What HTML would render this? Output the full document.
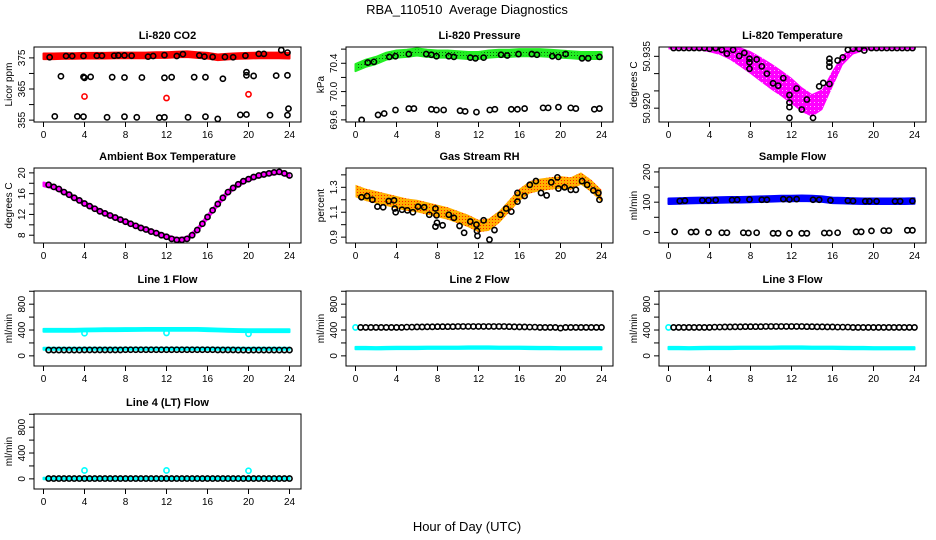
<!DOCTYPE html>
<html><head><meta charset="utf-8"><style>
html,body{margin:0;padding:0;background:#fff;}
svg{display:block;font-family:"Liberation Sans",sans-serif;}
</style></head><body>
<svg id="c" width="936" height="540" viewBox="0 0 936 540">
<defs>
<pattern id="pGreen" width="3" height="3" patternUnits="userSpaceOnUse"><rect width="3" height="3" fill="#22ee22"/><rect x="1" y="1" width="1" height="1" fill="#0a5a0a"/></pattern>
<pattern id="pRH" width="3" height="3" patternUnits="userSpaceOnUse"><rect width="3" height="3" fill="#ffb000"/><rect width="1" height="1" fill="#ff2000"/></pattern>
<pattern id="pMag" width="4" height="4" patternUnits="userSpaceOnUse"><rect width="4" height="4" fill="#ff00ff"/><rect x="2" y="2" width="1" height="1" fill="#ffb0ff"/></pattern>
</defs>
<text x="467" y="14" text-anchor="middle" font-size="13" style="white-space:pre">RBA_110510  Average Diagnostics</text>
<text x="467" y="531" text-anchor="middle" font-size="13">Hour of Day (UTC)</text>
</svg>
<script>
// ---------- data ----------
const xTicks = [0,4,8,12,16,20,24];
const bandHours = [0,1,2,3,4,5,6,7,8,9,10,11,12,13,14,15,16,17,18,19,20,21,22,23,24];
const halfHours = [0.5,1,1.5,2,2.5,3,3.5,4,4.5,5,5.5,6,6.5,7,7.5,8,8.5,9,9.5,10,10.5,11,11.5,12,12.5,13,13.5,14,14.5,15,15.5,16,16.5,17,17.5,18,18.5,19,19.5,20,20.5,21,21.5,22,22.5,23,23.5,24];

// CO2
const co2Band = [375.5,375.5,375.6,375.6,375.7,375.7,375.7,375.8,375.8,375.8,375.8,375.9,375.9,376.1,376.2,375.9,375.7,375.2,375.4,375.6,375.7,375.8,375.8,375.8,375.7];
const co2TopX = [0.6,2.2,2.8,3.9,5.2,5.7,6.9,7.3,7.9,8.6,10.2,10.7,11.8,13,13.6,15.2,15.7,16.5,17.7,18.5,19.7,21,21.5,23.2,23.8];
const co2TopY = [375.2,375.6,375.6,375.6,375.7,375.7,375.7,375.8,375.8,375.7,375.4,375.6,375.9,375.6,376.2,375.8,375.4,375.3,375.3,375.2,375.7,376.3,376.3,377.5,376.7];
const co2MidX = [1.7,3.9,4.0,4.6,6.7,7.9,9.6,11.8,12.5,14.7,15.8,17.5,19.8,19.8,20.5,22.7,23.8];
const co2MidY = [369.1,368.9,368.6,368.9,368.8,368.7,368.7,368.6,368.8,368.8,368.8,368.3,369.4,370.4,369.2,369.3,369.4];
const co2LowX = [1.1,3.3,3.9,6.2,7.9,9.1,11.3,11.8,14.1,15.8,17,19.2,19.8,22.1,23.8,23.9];
const co2LowY = [356.2,356.2,356.1,355.9,356.1,355.9,355.8,355.9,355.9,356.1,355.4,356.7,356.8,356.6,356.6,358.7];
const co2RedX = [4,12,20];
const co2RedY = [362.6,362.1,363.3];

// Pressure
const presBand = [70.34,70.4,70.44,70.5,70.53,70.54,70.56,70.54,70.53,70.53,70.52,70.51,70.51,70.53,70.54,70.54,70.55,70.55,70.55,70.54,70.53,70.52,70.51,70.51,70.51];
const presTopX = [1.2,1.8,3.3,3.9,5.2,6.9,7.4,7.9,9.1,9.6,11.2,11.7,12.5,14.2,14.8,15.9,17.2,17.7,19.2,19.8,20.5,22.1,22.7,23.8];
const presTopY = [70.41,70.42,70.49,70.5,70.53,70.53,70.52,70.5,70.5,70.49,70.48,70.47,70.48,70.52,70.51,70.53,70.53,70.52,70.5,70.49,70.53,70.47,70.47,70.49];
const presLowX = [0.6,2.2,2.8,3.9,5.2,5.7,7.4,7.9,8.6,10.2,10.7,11.8,13.1,13.6,15.2,15.8,16.5,18.3,18.8,19.8,21,21.5,23.3,23.8];
const presLowY = [69.6,69.67,69.69,69.74,69.76,69.76,69.75,69.74,69.74,69.73,69.72,69.71,69.74,69.75,69.75,69.75,69.76,69.77,69.77,69.78,69.77,69.76,69.75,69.76];

// Li-820 temperature
const tempBand = [50.9376,50.9376,50.9376,50.9375,50.9372,50.9368,50.9360,50.9348,50.9332,50.9312,50.9292,50.9272,50.9250,50.9225,50.9208,50.9225,50.9285,50.9340,50.9365,50.9372,50.9375,50.9376,50.9376,50.9376,50.9376];
const tempSpread = [0.0006,0.0006,0.0006,0.0008,0.0010,0.0014,0.0020,0.0028,0.0033,0.0036,0.0038,0.0038,0.0038,0.0036,0.0033,0.0030,0.0024,0.0015,0.0010,0.0007,0.0006,0.0006,0.0006,0.0006,0.0006];
const tempPtX = [0.5,1,1.5,2,2.5,3,3.5,4,4.6,5.2,5.7,6.3,6.9,7.4,7.9,7.9,7.9,8.6,9.1,9.6,10.2,10.7,11.2,11.8,11.8,11.8,11.8,12.5,13,13.5,14.1,14.7,15.1,15.7,15.7,15.7,15.7,16.5,17,17.5,18,18.6,19.1,19.8,20.3,20.8,21.3,21.8,22.3,22.8,23.3,23.8];
const tempPtY = [50.9374,50.9374,50.9374,50.9374,50.9374,50.9374,50.9374,50.9372,50.9374,50.9369,50.9358,50.9369,50.9351,50.9360,50.9343,50.9333,50.9314,50.9341,50.9321,50.9300,50.9272,50.9265,50.9287,50.9238,50.9216,50.9203,50.9172,50.9257,50.9196,50.9225,50.9172,50.9263,50.9273,50.9270,50.9320,50.9332,50.9343,50.9338,50.9347,50.9369,50.9372,50.9372,50.9367,50.9374,50.9374,50.9374,50.9374,50.9374,50.9374,50.9374,50.9374,50.9374];

// Ambient box temperature
const ambBand = [17.8,17.3,16.3,15.2,14.1,13.1,12.2,11.4,10.6,9.8,9.1,8.4,7.7,7.1,7.3,9.0,11.5,14.0,16.3,17.8,18.8,19.5,19.9,20.2,19.5];
const ambPtY = [17.7,17.3,16.9,16.3,15.8,15.2,14.7,14.1,13.6,13.1,12.6,12.2,11.8,11.4,11.0,10.6,10.2,9.8,9.4,9.1,8.7,8.4,8.0,7.7,7.3,7.1,7.1,7.3,8.0,9.0,10.2,11.5,12.8,14.0,15.2,16.3,17.1,17.8,18.4,18.8,19.2,19.5,19.7,19.9,20.1,20.2,19.9,19.5];

// Gas stream RH
const rhBand = [1.27,1.24,1.22,1.2,1.18,1.16,1.15,1.13,1.11,1.09,1.06,1.03,0.99,1.0,1.06,1.15,1.24,1.3,1.32,1.33,1.34,1.33,1.37,1.31,1.23];
const rhPtX = [0.58,1.13,1.65,2.14,2.7,3.24,3.76,3.83,3.92,4.54,5.06,5.6,6.1,6.7,7.2,7.8,7.9,7.8,7.95,8.5,9.1,9.6,10.15,10.6,11.2,11.8,11.85,11.9,12.5,13.07,13.56,14.14,14.7,15.2,15.8,15.8,16.5,17.0,17.6,18.1,18.65,19.1,19.7,19.8,20.4,21.0,21.5,22.1,22.6,23.2,23.7,23.8];
const rhPtY = [1.22,1.23,1.2,1.145,1.14,1.19,1.195,1.13,1.1,1.12,1.115,1.1,1.145,1.14,1.08,1.13,1.075,0.985,1.015,0.995,1.08,1.055,0.99,0.935,1.025,1.0,0.95,0.91,1.035,0.88,0.957,1.08,1.13,1.105,1.185,1.255,1.23,1.32,1.35,1.255,1.235,1.34,1.38,1.29,1.3,1.28,1.28,1.35,1.32,1.275,1.255,1.2];

// Sample flow
const sfBand = [103,104,105,106,106,107,108,108,109,110,111,112,112,113,112,110,106,105,104,103,103,103,103,103,104];
const sfTopX = [1.1,1.6,3.3,3.9,4.6,6.2,6.7,7.9,9.1,9.6,11.2,11.8,12.5,14.1,14.7,15.8,17.5,18,19.2,19.6,20.3,22.1,22.6,23.8];
const sfTopY = [104,105,106,106,107,107,108,109,108,108,110,109,110,108,108,106,105,104,103,103,103,103,103,104];
const sfLowX = [0.6,2.2,2.7,3.9,5.2,5.7,7.3,7.8,8.6,10.2,10.7,11.8,13,13.5,15.2,15.7,16.5,18.3,18.8,19.8,21,21.5,23.3,23.8];
const sfLowY = [2,1,2,0,-1,-1,-1,-2,-1,-3,-3,-3,-3,-3,-2,-2,-1,2,2,5,6,6,7,7];

// Line flows
const l1High = [395,395,395,395,400,402,405,405,407,408,410,410,410,410,410,410,405,400,395,392,390,390,390,390,390];
const l1Low = [110,110,110,110,110,110,110,110,110,110,110,110,110,110,110,110,110,110,110,110,110,110,110,110,110];
const l1Circ = [90,90,90,90,90,90,90,92,92,92,92,92,92,92,92,95,95,95,95,95,95,95,95,95,95,95,95,95,95,95,95,95,95,92,92,92,92,90,90,88,90,90,90,90,90,90,90,90];
const l1DipX = [4,12,20];
const l1DipY = [350,355,340];
const l2Low = [120,120,118,120,122,122,122,125,125,125,125,128,128,128,126,125,125,122,120,120,118,118,118,118,118];
const l2Circ = [440,440,440,440,440,440,440,440,440,445,445,448,448,450,450,452,452,452,452,455,455,455,455,455,455,455,455,455,455,452,450,448,448,445,445,440,440,440,440,430,440,440,440,440,440,440,440,440];
const l3Low = [120,120,118,120,122,122,122,125,125,125,125,128,128,128,126,125,125,122,120,120,118,118,118,118,118];
const l3Circ = [440,440,440,440,440,440,440,440,445,445,448,448,450,450,452,452,452,452,455,455,455,455,455,455,455,455,452,452,450,450,448,448,445,445,445,440,440,440,440,440,440,440,440,440,440,440,440,440];
const l4Low = [5,5,5,5,5,5,5,5,5,5,5,5,5,5,5,5,5,5,5,5,5,5,5,5,5];
const l4Circ = [5,5,5,5,5,5,5,5,5,5,5,5,5,5,5,5,5,5,5,5,5,5,5,5,5,5,5,5,5,5,5,5,5,5,5,5,5,5,5,5,5,5,5,5,5,5,5,5];
const l4DipX = [4,12,20];
const l4DipY = [130,130,125];

// ---------- drawing ----------
const NS = "http://www.w3.org/2000/svg";
const svg = document.getElementById("c");
const colL = [34,346,659], rowT = [47,168,291,414], W = 267, H = 75;

function mk(tag, attrs, parent){
  const e = document.createElementNS(NS, tag);
  for (const k in attrs) e.setAttribute(k, attrs[k]);
  (parent||svg).appendChild(e);
  return e;
}

function panel(col,row,title,yTitle,ymin,ymax,ticks,labels,name){
  const L = colL[col], T = rowT[row];
  const g = mk("g",{});
  
  
  const xs = h => L + 9.5 + h * (246 / 24);
  const ys = v => T + H - (v - ymin) / (ymax - ymin) * H;
  const clipId = "clip" + name;
  const cp = mk("clipPath",{id:clipId},g); mk("rect",{x:L,y:T,width:W,height:H},cp);
  const plot = mk("g",{"clip-path":"url(#"+clipId+")"},g);
  const box = mk("rect",{x:L,y:T,width:W,height:H,fill:"none",stroke:"#000","stroke-width":1},g);
  
  
  const t = mk("text",{x:L+W/2,y:T-8,"text-anchor":"middle","font-size":11,"font-weight":"bold"},g);
  t.textContent = title;
  
  
  const xa = mk("g",{},g);
  
  
  xTicks.forEach(h=>{
    const x = xs(h);
    mk("line",{x1:x,x2:x,y1:T+H,y2:T+H+5,stroke:"#000"},xa);
    const tl = mk("text",{x:x,y:T+H+16,"text-anchor":"middle","font-size":10},xa);
    tl.textContent = h;
  });
  const ya = mk("g",{},g);
  
  
  ticks.forEach((v,i)=>{
    const y = ys(v);
    mk("line",{x1:L,x2:L-5,y1:y,y2:y,stroke:"#000"},ya);
    if (labels[i]) {
      const tl = mk("text",{x:L-9,y:y,"text-anchor":"middle","font-size":10,transform:"rotate(-90 "+(L-9)+" "+y+")"},ya);
      tl.textContent = labels[i];
    }
  });
  const yt = mk("text",{x:L-22,y:T+H/2,"text-anchor":"middle","font-size":10,transform:"rotate(-90 "+(L-22)+" "+(T+H/2)+")"},g);
  yt.textContent = yTitle;
  
  
  return {plot, xs, ys};
}

function band(p, hours, center, hw, fill, name){
  let up = [], dn = [];
  hours.forEach((h,i)=>{
    const w = Array.isArray(hw) ? hw[i] : hw;
    up.push(p.xs(h).toFixed(1)+","+p.ys(center[i]+w).toFixed(1));
    dn.unshift(p.xs(h).toFixed(1)+","+p.ys(center[i]-w).toFixed(1));
  });
  const e = mk("polygon",{points:up.concat(dn).join(" "),fill:fill,stroke:fill==="url(#pGreen)"?"#22ee22":(fill.startsWith("url")?"none":fill),"stroke-width":2,"stroke-linejoin":"round"},p.plot);
  
  
}

function circles(p, xArr, yArr, color, name, r){
  const g = mk("g",{},p.plot);
  
  
  xArr.forEach((h,i)=>{
    const c = mk("circle",{cx:p.xs(h),cy:p.ys(yArr[i]),r:r||2.6,fill:"none",stroke:color,"stroke-width":1.6},g);
    
    
  });
}

let p = panel(0,0,"Li-820 CO2","Licor ppm",354.4,378.5,[355,360,365,370,375],["355","","365","","375"],"co2");
band(p,bandHours,co2Band,0.9,"#ff0000","co2-band");
circles(p,co2TopX,co2TopY,"#000","co2-upper-points");
circles(p,co2MidX,co2MidY,"#000","co2-middle-points");
circles(p,co2LowX,co2LowY,"#000","co2-lower-points");
circles(p,co2RedX,co2RedY,"#ff0000","co2-red-points");

p = panel(1,0,"Li-820 Pressure","kPa",69.57,70.63,[69.6,69.8,70.0,70.2,70.4,70.6],["69.6","","70.0","","70.4",""],"pressure");
band(p,bandHours,presBand,0.05,"url(#pGreen)","pressure-band");
circles(p,presTopX,presTopY,"#000","pressure-upper-points");
circles(p,presLowX,presLowY,"#000","pressure-lower-points");

p = panel(2,0,"Li-820 Temperature","degrees C",50.916,50.9377,[50.920,50.925,50.930,50.935],["50.920","","","50.935"],"li820-temp");
band(p,bandHours,tempBand,tempSpread,"url(#pMag)","li820-temp-band");
circles(p,tempPtX,tempPtY,"#000","li820-temp-points");

p = panel(0,1,"Ambient Box Temperature","degrees C",6.5,20.94,[8,10,12,14,16,18,20],["8","","12","","16","","20"],"ambient");
band(p,bandHours,ambBand,0.35,"#ff00ff","ambient-band");
circles(p,halfHours,ambPtY,"#000","ambient-points");

p = panel(1,1,"Gas Stream RH","percent",0.853,1.455,[0.9,1.0,1.1,1.2,1.3,1.4],["0.9","","1.1","","1.3",""],"rh");
band(p,bandHours,rhBand,0.05,"url(#pRH)","rh-band");
circles(p,rhPtX,rhPtY,"#000","rh-points");

p = panel(2,1,"Sample Flow","ml/min",-35,213,[0,50,100,150,200],["0","","100","","200"],"sample-flow");
band(p,bandHours,sfBand,9,"#0000ff","sample-flow-band");
circles(p,sfTopX,sfTopY,"#000","sample-flow-upper-points");
circles(p,sfLowX,sfLowY,"#000","sample-flow-lower-points");

const fT = [0,200,400,600,800,1000], fL = ["0","","400","","800",""];
p = panel(0,2,"Line 1 Flow","ml/min",-157,1004,fT,fL,"line1-flow");
band(p,bandHours,l1High,22,"#00ffff","line1-high-band");
band(p,bandHours,l1Low,16,"#00ffff","line1-low-band");
circles(p,halfHours,l1Circ,"#000","line1-points");
circles(p,l1DipX,l1DipY,"#00ffff","line1-dip-points");

p = panel(1,2,"Line 2 Flow","ml/min",-157,1004,fT,fL,"line2-flow");
band(p,bandHours,l2Low,18,"#00ffff","line2-low-band");
circles(p,[0],[440],"#00ffff","line2-start-point");
circles(p,halfHours,l2Circ,"#000","line2-points");

p = panel(2,2,"Line 3 Flow","ml/min",-157,1004,fT,fL,"line3-flow");
band(p,bandHours,l3Low,18,"#00ffff","line3-low-band");
circles(p,[0],[440],"#00ffff","line3-start-point");
circles(p,halfHours,l3Circ,"#000","line3-points");

p = panel(0,3,"Line 4 (LT) Flow","ml/min",-157,1004,fT,fL,"line4-flow");
band(p,bandHours,l4Low,12,"#00ffff","line4-band");
circles(p,halfHours,l4Circ,"#000","line4-points");
circles(p,l4DipX,l4DipY,"#00ffff","line4-dip-points");
</script>
</body></html>
